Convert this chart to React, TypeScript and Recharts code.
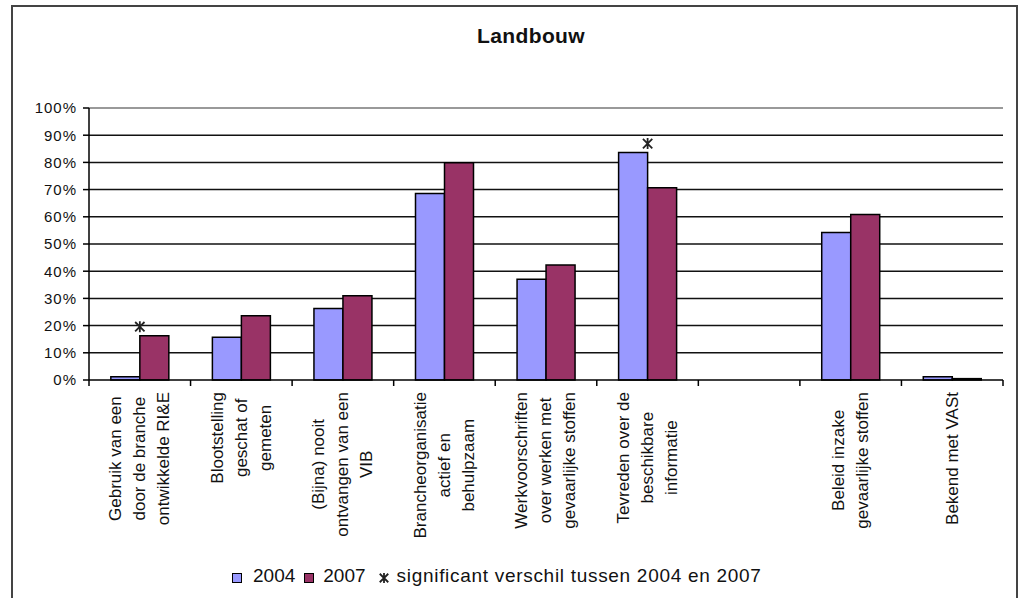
import { BarChart, Bar, XAxis, YAxis, CartesianGrid, ReferenceLine, LabelList } from 'recharts'

const FONT = '"Liberation Sans", Arial, sans-serif'

// category labels, one entry per printed line
const CATEGORY_LINES: string[][] = [
  ['Gebruik van een', 'door de branche', 'ontwikkelde RI&E'],
  ['Blootstelling', 'geschat of', 'gemeten'],
  ['(Bijna) nooit', 'ontvangen van een', 'VIB'],
  ['Brancheorganisatie', 'actief en', 'behulpzaam'],
  ['Werkvoorschriften', 'over werken met', 'gevaarlijke stoffen'],
  ['Tevreden over de', 'beschikbare', 'informatie'],
  [],
  ['Beleid inzake', 'gevaarlijke stoffen'],
  ['Bekend met VASt'],
]

const VALUES_2004 = [1.2, 15.7, 26.3, 68.6, 37.0, 83.6, null, 54.2, 1.2]
const VALUES_2007 = [16.3, 23.6, 31.0, 79.9, 42.3, 70.7, null, 60.8, 0.5]

// significant difference flag, marked above the higher bar of the pair
const SIG_ON_2004 = [false, false, false, false, false, true, false, false, false]
const SIG_ON_2007 = [true, false, false, false, false, false, false, false, false]

const Y_TICKS = [0, 10, 20, 30, 40, 50, 60, 70, 80, 90, 100]

const data = CATEGORY_LINES.map((lines, i) => ({
  name: lines.join(' '),
  v2004: VALUES_2004[i],
  v2007: VALUES_2007[i],
}))

let measureCtx: CanvasRenderingContext2D | null = null
function textWidth(s: string, font: string) {
  if (!measureCtx) measureCtx = document.createElement('canvas').getContext('2d')
  if (!measureCtx) return s.length * 8
  measureCtx.font = font
  return measureCtx.measureText(s).width
}

const LABEL_SIZE = 17
const LINE_STEP = 24

function CategoryTick(props: any) {
  const { x, y, payload } = props
  const idx = payload.index ?? props.index
  const lines = CATEGORY_LINES[idx] || []
  const half = payload.offset ?? 0
  const maxW = Math.max(0, ...lines.map((l) => textWidth(l, `${LABEL_SIZE}px ${FONT}`)))
  const cy = y + 12 + maxW / 2
  return (
    <g>
      <line x1={x - half} x2={x - half} y1={y} y2={y + 6} stroke="#000" strokeWidth={1.5} />
      {idx === CATEGORY_LINES.length - 1 && (
        <line x1={x + half} x2={x + half} y1={y} y2={y + 6} stroke="#000" strokeWidth={1.5} />
      )}
      {lines.map((l, i) => {
        const lx = x + (i - (lines.length - 1) / 2) * LINE_STEP
        return (
          <text
            key={i}
            x={lx}
            y={cy}
            transform={`rotate(-90, ${lx}, ${cy})`}
            textAnchor="middle"
            dominantBaseline="central"
            fontFamily={FONT}
            fontSize={LABEL_SIZE}
            fill="#111"
          >
            {l}
          </text>
        )
      })}
    </g>
  )
}

function Asterisk({ cx, cy, r = 5.5 }: { cx: number; cy: number; r?: number }) {
  const d = r * 0.85
  return (
    <path
      d={`M${cx},${cy - r} L${cx},${cy + r} M${cx - d},${cy - d} L${cx + d},${cy + d} M${cx - d},${cy + d} L${cx + d},${cy - d}`}
      stroke="#222"
      strokeWidth={1.8}
      fill="none"
    />
  )
}

const sigLabel = (flags: boolean[], atRight: boolean) => (p: any) => {
  if (!flags[p.index]) return null
  const cx = atRight ? p.x + p.width : p.x
  return <Asterisk cx={cx} cy={p.y - 9} />
}

export default function App() {
  return (
    <div style={{ position: 'absolute', left: 0, top: 0, width: 1020, height: 598, background: '#fff', overflow: 'hidden', fontFamily: FONT }}>
      <div style={{ position: 'absolute', left: 11, top: 5, width: 1007, height: 620, border: '2px solid #444', boxSizing: 'border-box' }} />
      <div style={{ position: 'absolute', left: 431, top: 25, width: 200, textAlign: 'center', fontWeight: 'bold', fontSize: 21, lineHeight: '21px', letterSpacing: 0.4, color: '#111' }}>
        Landbouw
      </div>
      <div style={{ position: 'absolute', left: 0, top: 0 }}>
        <BarChart
          width={1020}
          height={598}
          data={data}
          margin={{ top: 108, right: 17, bottom: 68, left: 0 }}
          barCategoryGap="21.5%"
          barGap={0}
        >
          <CartesianGrid vertical={false} horizontalValues={[10, 20, 30, 40, 50, 60, 70, 80, 90]} stroke="#111" strokeWidth={1.5} />
          <ReferenceLine y={100} stroke="#999" strokeWidth={2} />
          <Bar dataKey="v2004" fill="#9999FF" stroke="#000" strokeWidth={1.5} isAnimationActive={false}>
            <LabelList dataKey="v2004" content={sigLabel(SIG_ON_2004, true)} />
          </Bar>
          <Bar dataKey="v2007" fill="#993366" stroke="#000" strokeWidth={1.5} isAnimationActive={false}>
            <LabelList dataKey="v2007" content={sigLabel(SIG_ON_2007, false)} />
          </Bar>
          <XAxis
            dataKey="name"
            height={150}
            interval={0}
            tickSize={0}
            tickMargin={0}
            tickLine={false}
            axisLine={{ stroke: '#000', strokeWidth: 1.5 }}
            tick={<CategoryTick />}
          />
          <YAxis
            width={89}
            domain={[0, 100]}
            ticks={Y_TICKS}
            interval={0}
            tickFormatter={(v: number) => `${v}%`}
            tickSize={6}
            tickMargin={6}
            tickLine={{ stroke: '#000', strokeWidth: 1.5 }}
            axisLine={{ stroke: '#000', strokeWidth: 1.5 }}
            tick={{ fill: '#111', fontSize: 15, fontFamily: FONT, letterSpacing: 1 }}
          />
          <YAxis yAxisId="frame" orientation="right" width={0} tick={false} tickLine={false} axisLine={{ stroke: '#999', strokeWidth: 2 }} />
        </BarChart>
      </div>
      <div style={{ position: 'absolute', left: 232, top: 566, height: 20, display: 'flex', alignItems: 'center', fontSize: 19, color: '#111', whiteSpace: 'nowrap' }}>
        <span style={{ width: 8, height: 8, background: '#9999FF', border: '1px solid #000', marginRight: 11, marginTop: 3 }} />
        <span style={{ marginRight: 9 }}>2004</span>
        <span style={{ width: 8, height: 8, background: '#993366', border: '1px solid #000', marginRight: 9, marginTop: 3 }} />
        <span style={{ marginRight: 12 }}>2007</span>
        <svg width={12} height={20} style={{ marginRight: 7 }}>
          <Asterisk cx={6} cy={12} r={5} />
        </svg>
        <span style={{ letterSpacing: 0.7 }}>significant verschil tussen 2004 en 2007</span>
      </div>
    </div>
  )
}
